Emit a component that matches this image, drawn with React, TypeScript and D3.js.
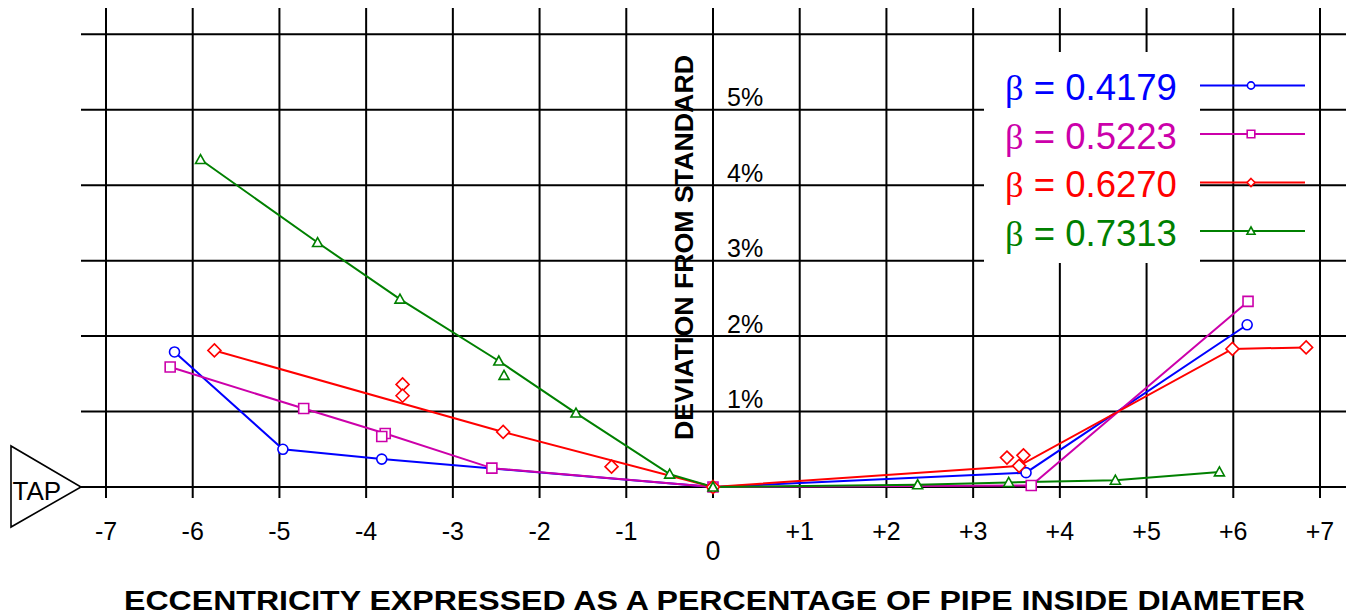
import React from 'react';
import * as d3 from 'd3';

// ---------- data ----------
const xTickValues = [-7, -6, -5, -4, -3, -2, -1, 0, 1, 2, 3, 4, 5, 6, 7];
const xTickLabels = ['-7', '-6', '-5', '-4', '-3', '-2', '-1', '', '+1', '+2', '+3', '+4', '+5', '+6', '+7'];
const yGridValues = [0, 1, 2, 3, 4, 5, 6];
const yTickValues = [1, 2, 3, 4, 5];
const yTickLabels = ['1%', '2%', '3%', '4%', '5%'];

const seriesValues = ['0.4179', '0.5223', '0.6270', '0.7313'];
const seriesColors = ['#0000ff', '#cc00aa', '#ff0000', '#008000'];
const seriesShapes = ['circle', 'square', 'diamond', 'triangle'];

// line points
const blueX = [-6.21, -4.96, -3.82, 0, 3.61, 6.16];
const blueY = [1.79, 0.5, 0.37, 0, 0.19, 2.15];
const magentaX = [-6.26, -4.72, -3.78, -2.55, 0, 3.67, 6.17];
const magentaY = [1.59, 1.04, 0.71, 0.25, 0, 0.02, 2.46];
const redX = [-5.75, -2.42, 0, 3.53, 5.99, 6.84];
const redY = [1.81, 0.73, 0, 0.28, 1.83, 1.85];
const greenX = [-5.91, -4.56, -3.61, -2.47, -1.58, -0.5, 0, 2.36, 3.41, 4.64, 5.84];
const greenY = [4.34, 3.24, 2.49, 1.67, 0.98, 0.17, 0, 0.03, 0.06, 0.09, 0.2];

// additional measured points (markers only)
const blueExtraX: number[] = [];
const blueExtraY: number[] = [];
const magentaExtraX = [-3.82];
const magentaExtraY = [0.67];
const redExtraX = [-3.58, -3.58, -1.17, 3.39, 3.58];
const redExtraY = [1.36, 1.21, 0.27, 0.39, 0.42];
const greenExtraX = [-2.41];
const greenExtraY = [1.48];

const xTitle = 'ECCENTRICITY EXPRESSED AS A PERCENTAGE OF PIPE INSIDE DIAMETER';
const yTitle = 'DEVIATION FROM STANDARD';

const W = 1346;
const H = 616;
const FONT = "'Liberation Sans', Arial, sans-serif";

function markerPath(shape: string, s: number): string {
  if (shape === 'square') {
    return `M${-s},${-s}H${s}V${s}H${-s}Z`;
  }
  if (shape === 'diamond') {
    return `M0,${-s}L${s},0L0,${s}L${-s},0Z`;
  }
  if (shape === 'triangle') {
    const h = s * 1.0;
    return `M0,${-h}L${s},${h * 0.8}L${-s},${h * 0.8}Z`;
  }
  return '';
}

function Marker({ shape, x, y, color, size }: { shape: string; x: number; y: number; color: string; size: number }) {
  if (shape === 'circle') {
    return <circle cx={x} cy={y} r={size} fill="white" stroke={color} strokeWidth={1.6} />;
  }
  return <path d={markerPath(shape, size)} transform={`translate(${x},${y})`} fill="white" stroke={color} strokeWidth={1.6} />;
}

export default function App() {
  const x = d3.scaleLinear().domain([-7, 7]).range([106, 1320]);
  const y = d3.scaleLinear().domain([0, 6]).range([487, 34.3]);

  const series = [
    { xs: blueX, ys: blueY, ex: blueExtraX, ey: blueExtraY },
    { xs: magentaX, ys: magentaY, ex: magentaExtraX, ey: magentaExtraY },
    { xs: redX, ys: redY, ex: redExtraX, ey: redExtraY },
    { xs: greenX, ys: greenY, ex: greenExtraX, ey: greenExtraY },
  ];
  const markerSize = [5, 5, 6.5, 5];
  const legendMarkerSize = [3.6, 3.8, 4, 4];

  const line = d3
    .line<[number, number]>()
    .x((d) => x(d[0]))
    .y((d) => y(d[1]));

  const legendX0 = 984;
  const legendX1 = 1200;
  const legendTop = 52;
  const legendBottom = 263;
  const legendBase0 = 100;
  const legendStep = 48.5;

  return (
    <svg
      width={W}
      height={H}
      style={{ position: 'absolute', left: 0, top: 0, background: 'white' }}
      fontFamily={FONT}
    >
      <rect x={0} y={0} width={W} height={H} fill="white" />
      {/* grid */}
      <g stroke="black" strokeWidth={2}>
        {xTickValues.map((v) => (
          <line key={'vx' + v} x1={x(v)} x2={x(v)} y1={8} y2={498} />
        ))}
        {yGridValues.map((v) => (
          <line key={'hy' + v} x1={81} x2={W} y1={y(v)} y2={y(v)} />
        ))}
      </g>

      {/* legend box */}
      <rect x={legendX0} y={legendTop} width={legendX1 - legendX0} height={legendBottom - legendTop} fill="white" />

      {/* y tick labels */}
      {yTickValues.map((v, i) => (
        <text key={'yl' + v} x={727} y={y(v) - 3.5} fontSize={25} fill="black">
          {yTickLabels[i]}
        </text>
      ))}

      {/* x tick labels */}
      {xTickValues.map((v, i) =>
        xTickLabels[i] ? (
          <text key={'xl' + v} x={x(v)} y={540} fontSize={25} textAnchor="middle" fill="black">
            {xTickLabels[i]}
          </text>
        ) : null
      )}
      <text x={x(0)} y={560} fontSize={27} textAnchor="middle" fill="black">
        0
      </text>

      {/* y title */}
      <text
        transform={`translate(693,${(55 + 440) / 2}) rotate(-90)`}
        textAnchor="middle"
        fontWeight="bold"
        fontSize={26.5}
        textLength={385}
        lengthAdjust="spacingAndGlyphs"
        fill="black"
      >
        {yTitle}
      </text>

      {/* x title */}
      <text
        x={714.5}
        y={610}
        textAnchor="middle"
        fontWeight="bold"
        fontSize={27}
        textLength={1181}
        lengthAdjust="spacingAndGlyphs"
        fill="black"
      >
        {xTitle}
      </text>

      {/* TAP marker */}
      <polygon points="11,446 11,527 81,487" fill="white" stroke="black" strokeWidth={1.6} />
      <text x={12.5} y={499.5} fontSize={26} fill="black">
        TAP
      </text>

      {/* data */}
      {series.map((s, si) => (
        <g key={'s' + si}>
          <path
            d={line(s.xs.map((v, i) => [v, s.ys[i]] as [number, number])) || ''}
            fill="none"
            stroke={seriesColors[si]}
            strokeWidth={2}
          />
        </g>
      ))}
      {series.map((s, si) => (
        <g key={'m' + si}>
          {s.xs.map((v, i) => (
            <Marker key={'p' + i} shape={seriesShapes[si]} x={x(v)} y={y(s.ys[i])} color={seriesColors[si]} size={markerSize[si]} />
          ))}
          {s.ex.map((v, i) => (
            <Marker key={'e' + i} shape={seriesShapes[si]} x={x(v)} y={y(s.ey[i])} color={seriesColors[si]} size={markerSize[si]} />
          ))}
        </g>
      ))}

      {/* legend */}
      {seriesValues.map((val, i) => {
        const by = legendBase0 + i * legendStep;
        const ly = by - 14.5;
        return (
          <g key={'lg' + i}>
            <text x={1005} y={by} fontSize={36.5} fill={seriesColors[i]}>
              <tspan fontFamily="'Liberation Serif', 'Times New Roman', serif">β</tspan>
              <tspan> = {val}</tspan>
            </text>
            <line x1={1200} x2={1305} y1={ly} y2={ly} stroke={seriesColors[i]} strokeWidth={2} />
            <Marker shape={seriesShapes[i]} x={1251} y={ly} color={seriesColors[i]} size={legendMarkerSize[i]} />
          </g>
        );
      })}
    </svg>
  );
}
